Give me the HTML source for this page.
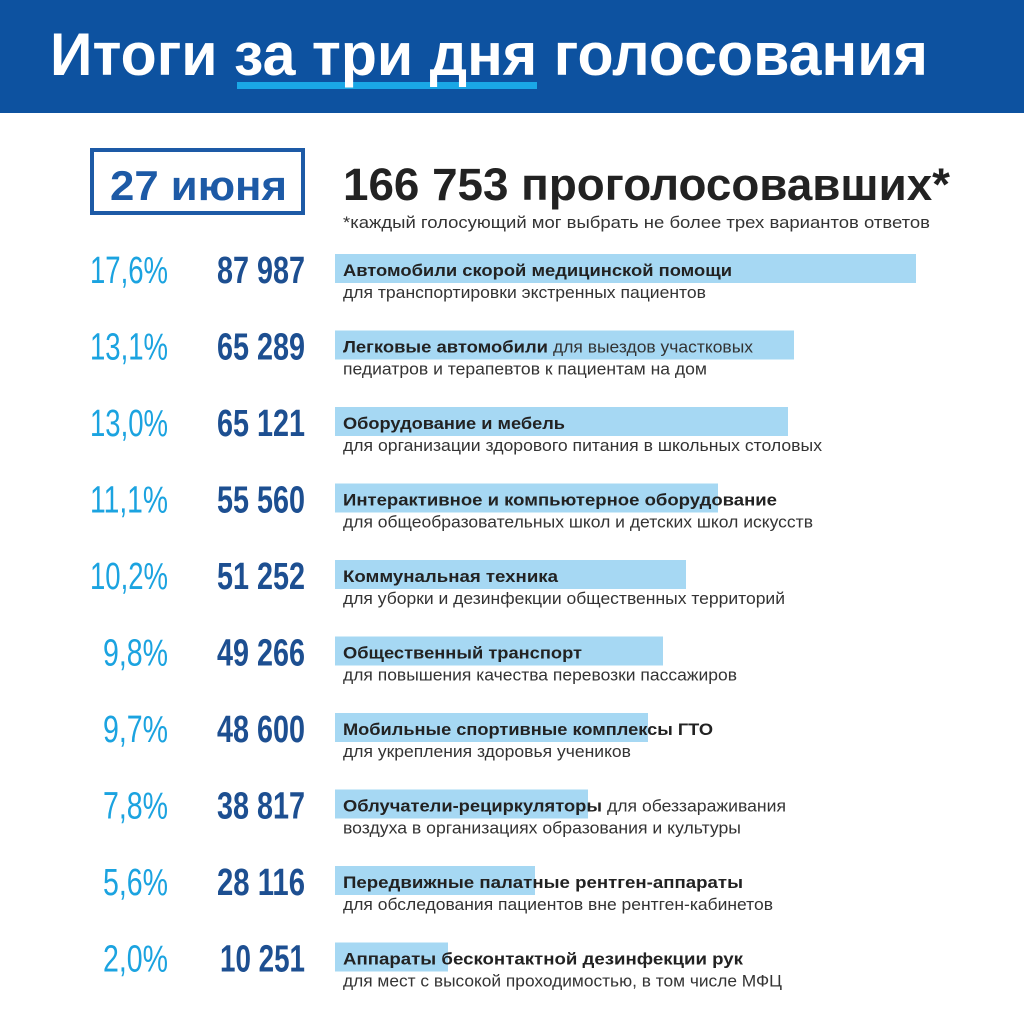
<!DOCTYPE html>
<html><head><meta charset="utf-8"><style>
html,body{margin:0;padding:0;background:#fff}
svg{display:block}
text{font-family:"Liberation Sans",sans-serif}
.b{font-weight:bold;fill:#222;font-size:17px}
.n{fill:#333;font-size:17px}
.p{fill:#1ba3e0;font-size:38px}
.v{fill:#1d4f91;font-size:38px;font-weight:bold}
.bar{fill:#a6d8f3}
</style></head><body>
<svg width="1024" height="1024" viewBox="0 0 1024 1024">
<rect x="0" y="0" width="1024" height="113" fill="#0d52a0"/>
<rect x="237" y="82" width="300" height="7" fill="#1aa7e6"/>
<text x="50" y="75" font-size="60" font-weight="bold" fill="#fff" textLength="878" lengthAdjust="spacingAndGlyphs">Итоги за три дня голосования</text>
<rect x="92" y="150" width="211" height="63" fill="none" stroke="#1d5aa6" stroke-width="4"/>
<text x="110" y="200" font-size="42" font-weight="bold" fill="#1d5aa6" textLength="177" lengthAdjust="spacingAndGlyphs">27 июня</text>
<text x="343" y="200" font-size="45" font-weight="bold" fill="#222" textLength="607" lengthAdjust="spacingAndGlyphs">166 753 проголосовавших*</text>
<text x="343" y="228" font-size="17" fill="#333" textLength="587" lengthAdjust="spacingAndGlyphs">*каждый голосующий мог выбрать не более трех вариантов ответов</text>

<g>
<rect class="bar" x="335" y="254" width="581" height="29"/>
<text class="p" x="90" y="283" textLength="78" lengthAdjust="spacingAndGlyphs">17,6%</text>
<text class="v" x="217" y="283" textLength="88" lengthAdjust="spacingAndGlyphs">87 987</text>
<text class="b" x="343" y="276" textLength="389" lengthAdjust="spacingAndGlyphs">Автомобили скорой медицинской помощи</text>
<text class="n" x="343" y="298" textLength="363" lengthAdjust="spacingAndGlyphs">для транспортировки экстренных пациентов</text>
</g>
<g transform="translate(0,76.5)">
<rect class="bar" x="335" y="254" width="459" height="29"/>
<text class="p" x="90" y="283" textLength="78" lengthAdjust="spacingAndGlyphs">13,1%</text>
<text class="v" x="217" y="283" textLength="88" lengthAdjust="spacingAndGlyphs">65 289</text>
<text class="b" x="343" y="276" textLength="205" lengthAdjust="spacingAndGlyphs">Легковые автомобили</text>
<text class="n" x="553" y="276" textLength="200" lengthAdjust="spacingAndGlyphs">для выездов участковых</text>
<text class="n" x="343" y="298" textLength="364" lengthAdjust="spacingAndGlyphs">педиатров и терапевтов к пациентам на дом</text>
</g>
<g transform="translate(0,153)">
<rect class="bar" x="335" y="254" width="453" height="29"/>
<text class="p" x="90" y="283" textLength="78" lengthAdjust="spacingAndGlyphs">13,0%</text>
<text class="v" x="217" y="283" textLength="88" lengthAdjust="spacingAndGlyphs">65 121</text>
<text class="b" x="343" y="276" textLength="222" lengthAdjust="spacingAndGlyphs">Оборудование и мебель</text>
<text class="n" x="343" y="298" textLength="479" lengthAdjust="spacingAndGlyphs">для организации здорового питания в школьных столовых</text>
</g>
<g transform="translate(0,229.5)">
<rect class="bar" x="335" y="254" width="383" height="29"/>
<text class="p" x="90" y="283" textLength="78" lengthAdjust="spacingAndGlyphs">11,1%</text>
<text class="v" x="217" y="283" textLength="88" lengthAdjust="spacingAndGlyphs">55 560</text>
<text class="b" x="343" y="276" textLength="434" lengthAdjust="spacingAndGlyphs">Интерактивное и компьютерное оборудование</text>
<text class="n" x="343" y="298" textLength="470" lengthAdjust="spacingAndGlyphs">для общеобразовательных школ и детских школ искусств</text>
</g>
<g transform="translate(0,306)">
<rect class="bar" x="335" y="254" width="351" height="29"/>
<text class="p" x="90" y="283" textLength="78" lengthAdjust="spacingAndGlyphs">10,2%</text>
<text class="v" x="217" y="283" textLength="88" lengthAdjust="spacingAndGlyphs">51 252</text>
<text class="b" x="343" y="276" textLength="215" lengthAdjust="spacingAndGlyphs">Коммунальная техника</text>
<text class="n" x="343" y="298" textLength="442" lengthAdjust="spacingAndGlyphs">для уборки и дезинфекции общественных территорий</text>
</g>
<g transform="translate(0,382.5)">
<rect class="bar" x="335" y="254" width="328" height="29"/>
<text class="p" x="103" y="283" textLength="65" lengthAdjust="spacingAndGlyphs">9,8%</text>
<text class="v" x="217" y="283" textLength="88" lengthAdjust="spacingAndGlyphs">49 266</text>
<text class="b" x="343" y="276" textLength="239" lengthAdjust="spacingAndGlyphs">Общественный транспорт</text>
<text class="n" x="343" y="298" textLength="394" lengthAdjust="spacingAndGlyphs">для повышения качества перевозки пассажиров</text>
</g>
<g transform="translate(0,459)">
<rect class="bar" x="335" y="254" width="313" height="29"/>
<text class="p" x="103" y="283" textLength="65" lengthAdjust="spacingAndGlyphs">9,7%</text>
<text class="v" x="217" y="283" textLength="88" lengthAdjust="spacingAndGlyphs">48 600</text>
<text class="b" x="343" y="276" textLength="370" lengthAdjust="spacingAndGlyphs">Мобильные спортивные комплексы ГТО</text>
<text class="n" x="343" y="298" textLength="288" lengthAdjust="spacingAndGlyphs">для укрепления здоровья учеников</text>
</g>
<g transform="translate(0,535.5)">
<rect class="bar" x="335" y="254" width="253" height="29"/>
<text class="p" x="103" y="283" textLength="65" lengthAdjust="spacingAndGlyphs">7,8%</text>
<text class="v" x="217" y="283" textLength="88" lengthAdjust="spacingAndGlyphs">38 817</text>
<text class="b" x="343" y="276" textLength="259" lengthAdjust="spacingAndGlyphs">Облучатели-рециркуляторы</text>
<text class="n" x="607" y="276" textLength="179" lengthAdjust="spacingAndGlyphs">для обеззараживания</text>
<text class="n" x="343" y="298" textLength="398" lengthAdjust="spacingAndGlyphs">воздуха в организациях образования и культуры</text>
</g>
<g transform="translate(0,612)">
<rect class="bar" x="335" y="254" width="200" height="29"/>
<text class="p" x="103" y="283" textLength="65" lengthAdjust="spacingAndGlyphs">5,6%</text>
<text class="v" x="217" y="283" textLength="88" lengthAdjust="spacingAndGlyphs">28 116</text>
<text class="b" x="343" y="276" textLength="400" lengthAdjust="spacingAndGlyphs">Передвижные палатные рентген-аппараты</text>
<text class="n" x="343" y="298" textLength="430" lengthAdjust="spacingAndGlyphs">для обследования пациентов вне рентген-кабинетов</text>
</g>
<g transform="translate(0,688.5)">
<rect class="bar" x="335" y="254" width="113" height="29"/>
<text class="p" x="103" y="283" textLength="65" lengthAdjust="spacingAndGlyphs">2,0%</text>
<text class="v" x="220" y="283" textLength="85" lengthAdjust="spacingAndGlyphs">10 251</text>
<text class="b" x="343" y="276" textLength="400" lengthAdjust="spacingAndGlyphs">Аппараты бесконтактной дезинфекции рук</text>
<text class="n" x="343" y="298" textLength="439" lengthAdjust="spacingAndGlyphs">для мест с высокой проходимостью, в том числе МФЦ</text>
</g>
</svg>
</body></html>
